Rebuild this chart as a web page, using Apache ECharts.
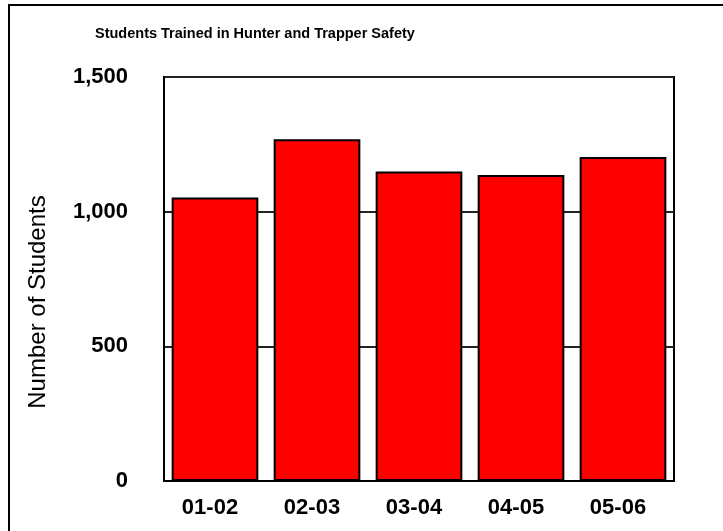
<!DOCTYPE html>
<html>
<head>
<meta charset="utf-8">
<script src="https://cdn.jsdelivr.net/npm/echarts@6/dist/echarts.min.js"></script>
<style>
html, body { margin: 0; padding: 0; background: #fff; }
#chart { width: 723px; height: 531px; }
</style>
</head>
<body>
<div id="chart"></div>
<script>
// school years
var years = ['01-02', '02-03', '03-04', '04-05', '05-06'];
// students trained
var students = [1053, 1269, 1149, 1136, 1203];
// y axis ticks
var yMin = 0, yMax = 1500, yStep = 500;

var chart = echarts.init(document.getElementById('chart'));

var option = {
    animation: false,
    backgroundColor: '#fff',
    textStyle: { fontFamily: 'Liberation Sans, Arial, sans-serif' },
    title: {
        text: 'Students Trained in Hunter and Trapper Safety',
        left: 90,
        top: 21,
        textStyle: { fontSize: 14.5, fontWeight: 'bold', color: '#000' }
    },
    grid: {
        left: 164, top: 77, right: 49, bottom: 50,
        show: true, borderColor: '#000', borderWidth: 2
    },
    //外框
    graphic: [
        {
            type: 'rect',
            shape: { x: 9, y: 5, width: 800, height: 600 },
            style: { fill: 'none', stroke: '#000', lineWidth: 2 },
            silent: true
        },
        {
            type: 'text',
            x: 38, y: 302,
            rotation: Math.PI / 2,
            style: {
                text: 'Number of Students',
                font: '24px "Liberation Sans", Arial, sans-serif',
                fill: '#000',
                align: 'center',
                verticalAlign: 'middle'
            }
        }
    ],
    xAxis: {
        type: 'category',
        data: years,
        axisLine: { lineStyle: { color: '#000', width: 2 } },
        axisTick: { show: false },
        axisLabel: { margin: 16, fontSize: 22, fontWeight: 'bold', color: '#000', padding: [0, 10, 0, 0] }
    },
    yAxis: {
        type: 'value',
        min: yMin, max: yMax, interval: yStep,
        axisLine: { show: true, lineStyle: { color: '#000', width: 2 } },
        axisTick: { show: false },
        splitLine: { lineStyle: { color: '#222', width: 2 } },
        axisLabel: {
            margin: 36, fontSize: 22, fontWeight: 'bold', color: '#000',
            formatter: function (v) { return v.toLocaleString('en-US'); }
        }
    },
    series: [{
        type: 'bar',
        data: students,
        barCategoryGap: '15%',
        itemStyle: { color: '#ff0000', borderColor: '#000', borderWidth: 2 }
    }]
};
chart.setOption(option);
</script>
</body>
</html>
